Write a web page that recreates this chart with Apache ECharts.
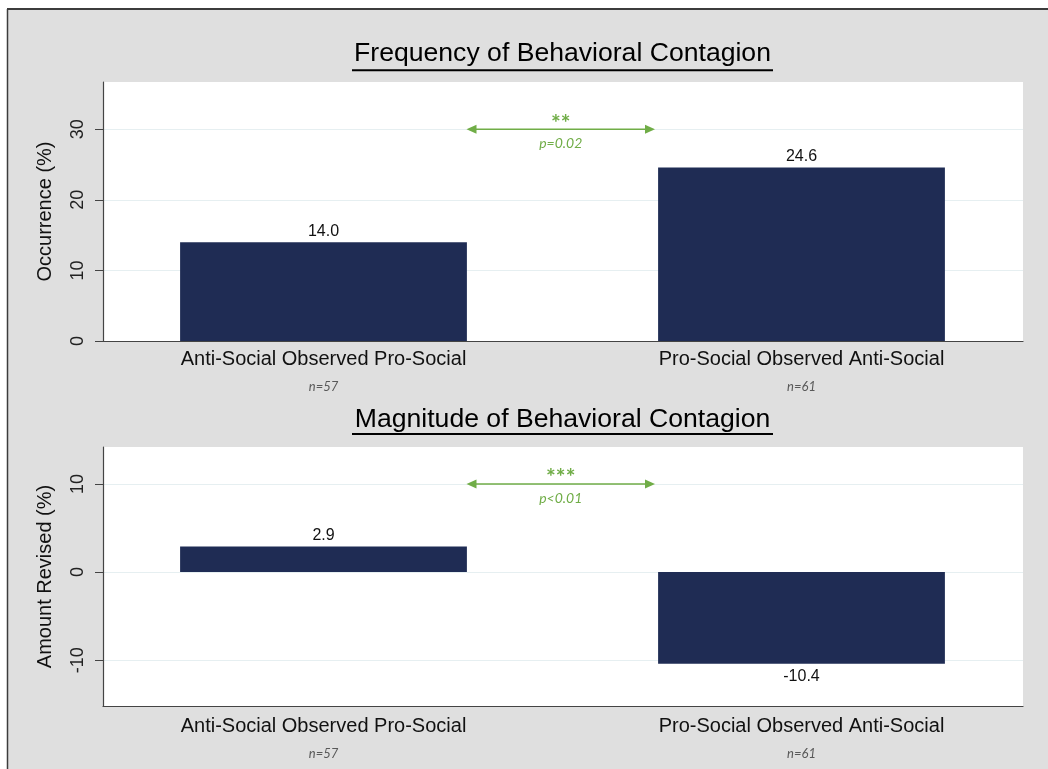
<!DOCTYPE html>
<html><head><meta charset="utf-8">
<script src="https://cdn.jsdelivr.net/npm/echarts@6/dist/echarts.min.js"></script>
<style>html,body{margin:0;padding:0;background:#fff}#c{width:1048px;height:769px}</style>
</head><body><div id="c"></div>
<script>
// ---- data ----
const categories = ['Anti-Social Observed Pro-Social', 'Pro-Social Observed Anti-Social'];
const sampleSizes = [57, 61];
const frequencyValues = [14.0, 24.6];
const magnitudeValues = [2.9, -10.4];
const frequencyTicks = [0, 10, 20, 30];
const magnitudeTicks = [-10, 0, 10];
const titles = ['Frequency of Behavioral Contagion', 'Magnitude of Behavioral Contagion'];
const yNames = ['Occurrence (%)', 'Amount Revised (%)'];
const sigStars = ['**', '***'];
const pLabels = ['p=0.02', 'p<0.01'];

// ---- style ----
const BAR = '#1f2c54', GREEN = '#70ad47', AXIS = '#444', GRIDC = '#e6eff1';
const FONT = "'Liberation Sans', Arial, sans-serif";
const panels = [
  {top: 82, height: 259, min: 0, max: 36.7, ticks: frequencyTicks, values: frequencyValues, labelMargin: 5},
  {top: 447, height: 259, min: -15.2, max: 14.2, ticks: magnitudeTicks, values: magnitudeValues, labelMargin: 7}
];

const grid = [], xAxis = [], yAxis = [], series = [];
panels.forEach((p, k) => {
  grid.push({left: 103, width: 920, top: p.top, height: p.height, show: true, backgroundColor: '#fff', borderWidth: 0});
  grid.push({left: 84.5, width: 956, top: p.top, height: p.height, show: false});
  const g0 = 2 * k, g1 = 2 * k + 1;
  xAxis.push({gridIndex: g0, type: 'category', data: categories,
    axisLine: {show: true, onZero: false, lineStyle: {color: AXIS, width: 1.2}},
    axisTick: {show: false}, axisLabel: {show: false}, splitLine: {show: false}});
  xAxis.push({gridIndex: g1, type: 'category', data: categories,
    axisLine: {show: false}, axisTick: {show: false}, splitLine: {show: false},
    axisLabel: {interval: 0, margin: p.labelMargin,
      formatter: (v, i) => '{c|' + v + '}\n{n|n=' + sampleSizes[i] + '}',
      rich: {
        c: {fontSize: 20, fontFamily: FONT, color: '#111', lineHeight: 26},
        n: {fontSize: 13, fontFamily: 'Lato, sans-serif', fontStyle: 'italic', color: '#595959', lineHeight: 30}
      }}});
  yAxis.push({gridIndex: g0, type: 'value', min: p.min, max: p.max,
    name: yNames[k], nameLocation: 'middle', nameGap: 48,
    nameTextStyle: {fontSize: 20, fontFamily: FONT, color: '#111'},
    axisLine: {show: true, lineStyle: {color: AXIS, width: 1.2}},
    axisTick: {show: true, length: 8, lineStyle: {color: AXIS}, customValues: p.ticks},
    axisLabel: {rotate: 90, margin: 16, fontSize: 18, fontFamily: FONT, color: '#222', customValues: p.ticks},
    splitLine: {show: true, lineStyle: {color: GRIDC, width: 1.2}}});
  yAxis.push({gridIndex: g1, type: 'value', min: p.min, max: p.max, show: false, splitLine: {show: false}});
  series.push({type: 'bar', xAxisIndex: g1, yAxisIndex: g1, barWidth: '60%',
    itemStyle: {color: BAR},
    label: {show: true, fontSize: 16, fontFamily: FONT, color: '#111', formatter: (d) => d.value.toFixed(1)},
    data: p.values.map(v => ({value: v, label: v < 0 ? {position: 'bottom', distance: 5} : {position: 'top', distance: 3}}))});
});

const chart = echarts.init(document.getElementById('c'), null, {renderer: 'canvas'});
const baseGraphic = [
  {type: 'rect', shape: {x: 0, y: 0, width: 1048, height: 8}, style: {fill: '#fff'}, silent: true},
  {type: 'rect', shape: {x: 0, y: 0, width: 7, height: 769}, style: {fill: '#fff'}, silent: true},
  {type: 'line', shape: {x1: 7, y1: 9, x2: 1048, y2: 9}, style: {stroke: '#3c3c3c', lineWidth: 2}, silent: true},
  {type: 'line', shape: {x1: 7.5, y1: 9, x2: 7.5, y2: 769}, style: {stroke: '#3c3c3c', lineWidth: 1.5}, silent: true},
  {type: 'line', shape: {x1: 352, y1: 70.3, x2: 773, y2: 70.3}, style: {stroke: '#000', lineWidth: 2}, silent: true},
  {type: 'line', shape: {x1: 352, y1: 434, x2: 773, y2: 434}, style: {stroke: '#000', lineWidth: 2}, silent: true}
];

chart.setOption({
  backgroundColor: '#dfdfdf',
  animation: false,
  title: [
    {text: titles[0], left: 562.5, textAlign: 'center', top: 40.5, padding: 0,
      textStyle: {fontSize: 26.6, fontWeight: 'normal', color: '#000', fontFamily: FONT}},
    {text: titles[1], left: 562.5, textAlign: 'center', top: 406.5, padding: 0,
      textStyle: {fontSize: 26.6, fontWeight: 'normal', color: '#000', fontFamily: FONT}}
  ],
  grid, xAxis, yAxis, series,
  graphic: baseGraphic
});

const annot = [];
panels.forEach((p, k) => {
  const y = chart.convertToPixel({yAxisIndex: 2 * k}, p.ticks[p.ticks.length - 1]);
  const xL = 466.5, xR = 655, xc = (xL + xR) / 2;
  annot.push(
    {type: 'line', z: 100, shape: {x1: xL + 6, y1: y, x2: xR - 6, y2: y}, style: {stroke: GREEN, lineWidth: 1.6}},
    {type: 'polygon', z: 100, shape: {points: [[xL, y], [xL + 10, y - 4.5], [xL + 10, y + 4.5]]}, style: {fill: GREEN}},
    {type: 'polygon', z: 100, shape: {points: [[xR, y], [xR - 10, y - 4.5], [xR - 10, y + 4.5]]}, style: {fill: GREEN}},
    {type: 'text', z: 100, x: xc, y: y - 6, style: {text: sigStars[k], fill: GREEN, align: 'center', verticalAlign: 'middle',
      font: "bold 23px Lato, sans-serif"}},
    {type: 'text', z: 100, x: xc, y: y + 14.5, style: {text: pLabels[k], fill: GREEN, align: 'center', verticalAlign: 'middle',
      font: "italic 14px Lato, sans-serif"}}
  );
});
chart.setOption({graphic: baseGraphic.concat(annot)});
</script>
</body></html>
